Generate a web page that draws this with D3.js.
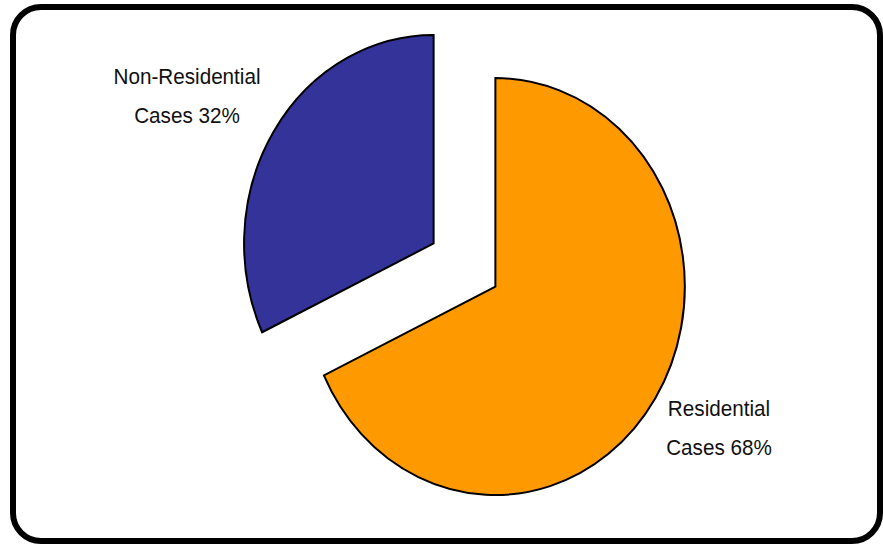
<!DOCTYPE html>
<html>
<head>
<meta charset="utf-8">
<script src="https://cdn.jsdelivr.net/npm/d3@7"></script>
<style>
  html, body { margin: 0; padding: 0; background: #fff; }
  svg { display: block; }
  text { font-family: "Liberation Sans", Arial, sans-serif; fill: #111; }
</style>
</head>
<body>
<svg id="chart" width="883" height="544"></svg>
<script>
const categories = ["Residential", "Non-Residential"];
const values = [68, 32];
const colors = ["#FF9900", "#333399"];
const labelLines = [["Residential", "Cases 68%"], ["Non-Residential", "Cases 32%"]];

const svg = d3.select("#chart");

// frame
svg.append("rect")
  .attr("x", 13).attr("y", 7)
  .attr("width", 867).attr("height", 534)
  .attr("rx", 28).attr("ry", 28)
  .attr("fill", "#fff")
  .attr("stroke", "#000")
  .attr("stroke-width", 6);

const cx = 464.5, cy = 265, rx = 189.5, ry = 208.5, explode = 0.193;

const pie = d3.pie().sort(null).value(d => d)(values);
const arc = d3.arc().innerRadius(0).outerRadius(1);

const g = svg.append("g");
g.selectAll("path")
  .data(pie)
  .join("path")
  .attr("d", arc)
  .attr("transform", d => {
    const m = (d.startAngle + d.endAngle) / 2;
    const ox = cx + Math.sin(m) * explode * rx;
    const oy = cy - Math.cos(m) * explode * ry;
    return `translate(${ox},${oy}) scale(${rx},${ry})`;
  })
  .attr("fill", (d, i) => colors[i])
  .attr("stroke", "#000")
  .attr("stroke-width", 2)
  .attr("vector-effect", "non-scaling-stroke")
  .attr("stroke-linejoin", "miter");

// labels (slightly condensed)
const sx = 0.94;
const labelPos = [[719, 416], [187, 84]];
labelLines.forEach((lines, i) => {
  const t = svg.append("text")
    .attr("text-anchor", "middle")
    .attr("font-size", 22)
    .attr("transform", `translate(${labelPos[i][0]},0) scale(${sx},1)`);
  lines.forEach((ln, j) => {
    t.append("tspan")
      .attr("x", 0)
      .attr("y", labelPos[i][1] + j * 39)
      .text(ln);
  });
});
</script>
</body>
</html>
